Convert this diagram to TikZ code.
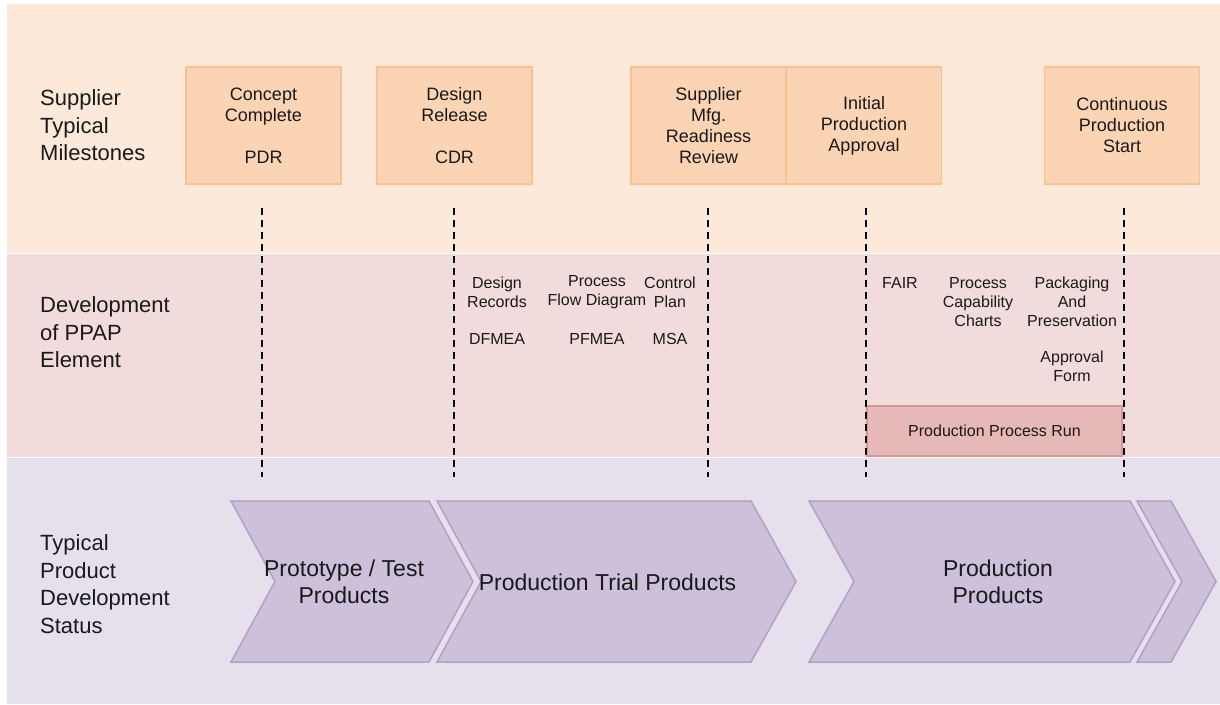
\documentclass[tikz,border=0pt]{standalone}
\usepackage{fontspec}
\setmainfont{Liberation Sans}
\definecolor{peachband}{HTML}{FDE9D9}
\definecolor{pinkband}{HTML}{F2DCDB}
\definecolor{lavband}{HTML}{E5E0EC}
\definecolor{msfill}{HTML}{FBD4B4}
\definecolor{msline}{HTML}{FAC08F}
\definecolor{runfill}{HTML}{E6B9B8}
\definecolor{runline}{HTML}{D99694}
\definecolor{chevfill}{HTML}{CCC0DA}
\definecolor{chevline}{HTML}{B2A1C7}
\begin{document}
\begin{tikzpicture}[x=1pt,y=-1pt]
        \tikzstyle{milestone}=[rectangle,draw=msline,fill=msfill,line width=1.5pt,minimum width=155pt,minimum height=117pt,inner sep=0pt,align=center,text=black!90,font=\fontsize{18}{21}\selectfont]
        \tikzstyle{rowlabel}=[anchor=west,align=left,inner sep=0pt,text=black!90,font=\fontsize{22}{27.5}\selectfont]
        \tikzstyle{element}=[align=center,inner sep=0pt,text=black!90,font=\fontsize{16}{19}\selectfont]
        \tikzstyle{runbox}=[rectangle,draw=runline,fill=runfill,line width=1.5pt,minimum width=255pt,minimum height=50pt,text=black!90,font=\fontsize{16}{19}\selectfont]
        \tikzstyle{chevron}=[draw=chevline,fill=chevfill,line width=1.5pt,line join=miter]
        \tikzstyle{status}=[align=center,inner sep=0pt,text=black!90,font=\fontsize{23}{27}\selectfont]
        \tikzstyle{drop}=[draw=black,line width=2pt,dash pattern=on 7pt off 5pt]

        \useasboundingbox (0,0) rectangle (1220,704);

        % bands
        \fill[peachband] (7,4) rectangle (1220,253);
        \fill[pinkband] (7,254) rectangle (1220,456.5);
        \fill[lavband] (7,458) rectangle (1220,704);

        \node [rowlabel] (lab1) at (40,125.5) {Supplier\\Typical\\Milestones};
        \node [rowlabel] (lab2) at (40,332.5) {Development\\of PPAP\\Element};
        \node [rowlabel] (lab3) at (40,584) {Typical\\Product\\Development\\Status};

        % milestones
        \node [milestone] (ms1) at (263.5,125.5) {Concept\\Complete\\[21pt]PDR};
        \node [milestone] (ms2) at (454.5,125.5) {Design\\Release\\[21pt]CDR};
        \node [milestone] (ms3) at (708.5,125.5) {Supplier\\Mfg.\\Readiness\\Review};
        \node [milestone] (ms4) at (864,125.5) {Initial\\Production\\Approval};
        \node [milestone] (ms5) at (1122,125.5) {Continuous\\Production\\Start};

        \coordinate (t1) at (262,208);  \coordinate (b1) at (262,477);
        \coordinate (t2) at (454,208);  \coordinate (b2) at (454,477);
        \coordinate (t3) at (708,208);  \coordinate (b3) at (708,477);
        \coordinate (t4) at (866,208);  \coordinate (b4) at (866,477);
        \coordinate (t5) at (1124,208); \coordinate (b5) at (1124,477);

        % PPAP elements
        \node [element] (pe1) at (497,292.5) {Design\\Records};
        \node [element] (pe2) at (597,292.5) {Process\\Flow Diagram};
        \node [element] (pe3) at (670,292.5) {Control\\Plan};
        \node [element] (pe4) at (497,339) {DFMEA};
        \node [element] (pe5) at (597,339) {PFMEA};
        \node [element] (pe6) at (670,339) {MSA};
        \node [element] (pe7) at (900,283) {FAIR};
        \node [element] (pe8) at (978,302) {Process\\Capability\\Charts};
        \node [element] (pe9) at (1072,302) {Packaging\\And\\Preservation};
        \node [element] (pe10) at (1072,366.5) {Approval\\Form};
        \node [runbox] (run) at (994.5,431) {Production Process Run};

        \path[drop] (t1) edge (b1);
        \path[drop] (t2) edge (b2);
        \path[drop] (t3) edge (b3);
        \path[drop] (t4) edge (b4);
        \path[drop] (t5) edge (b5);

        % status chevrons
        \filldraw[chevron] (231,501) -- (429,501) -- (473,581.5) -- (429,662) -- (231,662) -- (275,581.5) -- cycle;
        \filldraw[chevron] (437,501) -- (751,501) -- (796,581.5) -- (751,662) -- (437,662) -- (481,581.5) -- cycle;
        \filldraw[chevron] (809,501) -- (1130,501) -- (1175,581.5) -- (1130,662) -- (809,662) -- (854,581.5) -- cycle;
        \filldraw[chevron] (1137,501) -- (1171,501) -- (1216,581.5) -- (1171,662) -- (1137,662) -- (1182,581.5) -- cycle;

        \node [status] (st1) at (344,582) {Prototype / Test\\Products};
        \node [status] (st2) at (607.5,582) {Production Trial Products};
        \node [status] (st3) at (998,582) {Production\\Products};
\end{tikzpicture}
\end{document}
